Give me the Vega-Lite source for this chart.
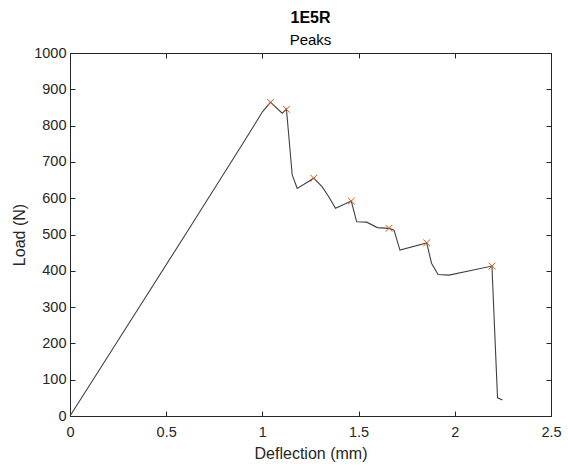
{
  "$schema": "https://vega.github.io/schema/vega-lite/v6.json",
  "autosize": "none",
  "width": 481,
  "height": 363,
  "padding": {"left": 70, "top": 53, "right": 17, "bottom": 54},
  "background": "white",
  "config": {
    "font": "Liberation Sans",
    "view": {"stroke": "#262626", "strokeWidth": 1},
    "axis": {
      "domainColor": "#262626",
      "tickColor": "#262626",
      "labelColor": "#262626",
      "titleColor": "#262626",
      "labelFont": "Liberation Sans",
      "titleFont": "Liberation Sans",
      "labelFontSize": 14.5,
      "titleFontSize": 16,
      "titleFontWeight": "normal",
      "grid": false,
      "tickSize": -5
    }
  },
  "title": {
    "text": "1E5R",
    "subtitle": "Peaks",
    "font": "Liberation Sans",
    "fontSize": 16,
    "fontWeight": "bold",
    "color": "#000000",
    "subtitleFont": "Liberation Sans",
    "subtitleFontSize": 15,
    "subtitleColor": "#000000",
    "subtitlePadding": 7,
    "anchor": "middle",
    "offset": -3
  },
  "datasets": {
    "curve": [
      {"d": 0, "load": 0},
      {"d": 0.3, "load": 250},
      {"d": 0.6, "load": 500},
      {"d": 0.9, "load": 752},
      {"d": 1.0, "load": 838},
      {"d": 1.042, "load": 864},
      {"d": 1.103, "load": 834},
      {"d": 1.125, "load": 845},
      {"d": 1.155, "load": 664},
      {"d": 1.181, "load": 627},
      {"d": 1.267, "load": 655},
      {"d": 1.31, "load": 632},
      {"d": 1.345, "load": 604},
      {"d": 1.38, "load": 572},
      {"d": 1.462, "load": 592},
      {"d": 1.49, "load": 535},
      {"d": 1.542, "load": 534},
      {"d": 1.597, "load": 519},
      {"d": 1.658, "load": 517},
      {"d": 1.684, "load": 512},
      {"d": 1.715, "load": 457},
      {"d": 1.854, "load": 477},
      {"d": 1.879, "load": 421},
      {"d": 1.913, "load": 390},
      {"d": 1.97, "load": 388},
      {"d": 2.193, "load": 413},
      {"d": 2.222, "load": 50},
      {"d": 2.248, "load": 44}
    ],
    "peaks": [
      {"d": 1.042, "load": 864},
      {"d": 1.125, "load": 845},
      {"d": 1.267, "load": 655},
      {"d": 1.462, "load": 592},
      {"d": 1.658, "load": 517},
      {"d": 1.854, "load": 477},
      {"d": 2.193, "load": 413}
    ]
  },
  "layer": [
    {
      "data": {"name": "curve"},
      "mark": {"type": "line", "color": "#404040", "strokeWidth": 1.1},
      "encoding": {
        "x": {
          "field": "d", "type": "quantitative",
          "scale": {"domain": [0, 2.5], "nice": false, "zero": false},
          "axis": {"orient": "bottom", "title": "Deflection (mm)", "values": [0, 0.5, 1, 1.5, 2, 2.5], "format": "~g", "labelPadding": 14, "titlePadding": 7, "labelFlush": false, "labelOverlap": false}
        },
        "y": {
          "field": "load", "type": "quantitative",
          "scale": {"domain": [0, 1000], "nice": false},
          "axis": {"orient": "left", "title": "Load (N)", "values": [0, 100, 200, 300, 400, 500, 600, 700, 800, 900, 1000], "format": "d", "labelPadding": 9, "titlePadding": 6, "labelFlush": false, "labelOverlap": false}
        }
      }
    },
    {
      "data": {"name": "peaks"},
      "mark": {"type": "point", "shape": "M-1,-1L1,1M-1,1L1,-1", "filled": false, "color": "#D95319", "size": 45, "strokeWidth": 1, "opacity": 1},
      "encoding": {
        "x": {
          "field": "d", "type": "quantitative",
          "axis": {"orient": "top", "title": null, "labels": false, "values": [0, 0.5, 1, 1.5, 2, 2.5]}
        },
        "y": {
          "field": "load", "type": "quantitative",
          "axis": {"orient": "right", "title": null, "labels": false, "values": [0, 100, 200, 300, 400, 500, 600, 700, 800, 900, 1000]}
        }
      }
    }
  ],
  "resolve": {"axis": {"x": "independent", "y": "independent"}}
}
